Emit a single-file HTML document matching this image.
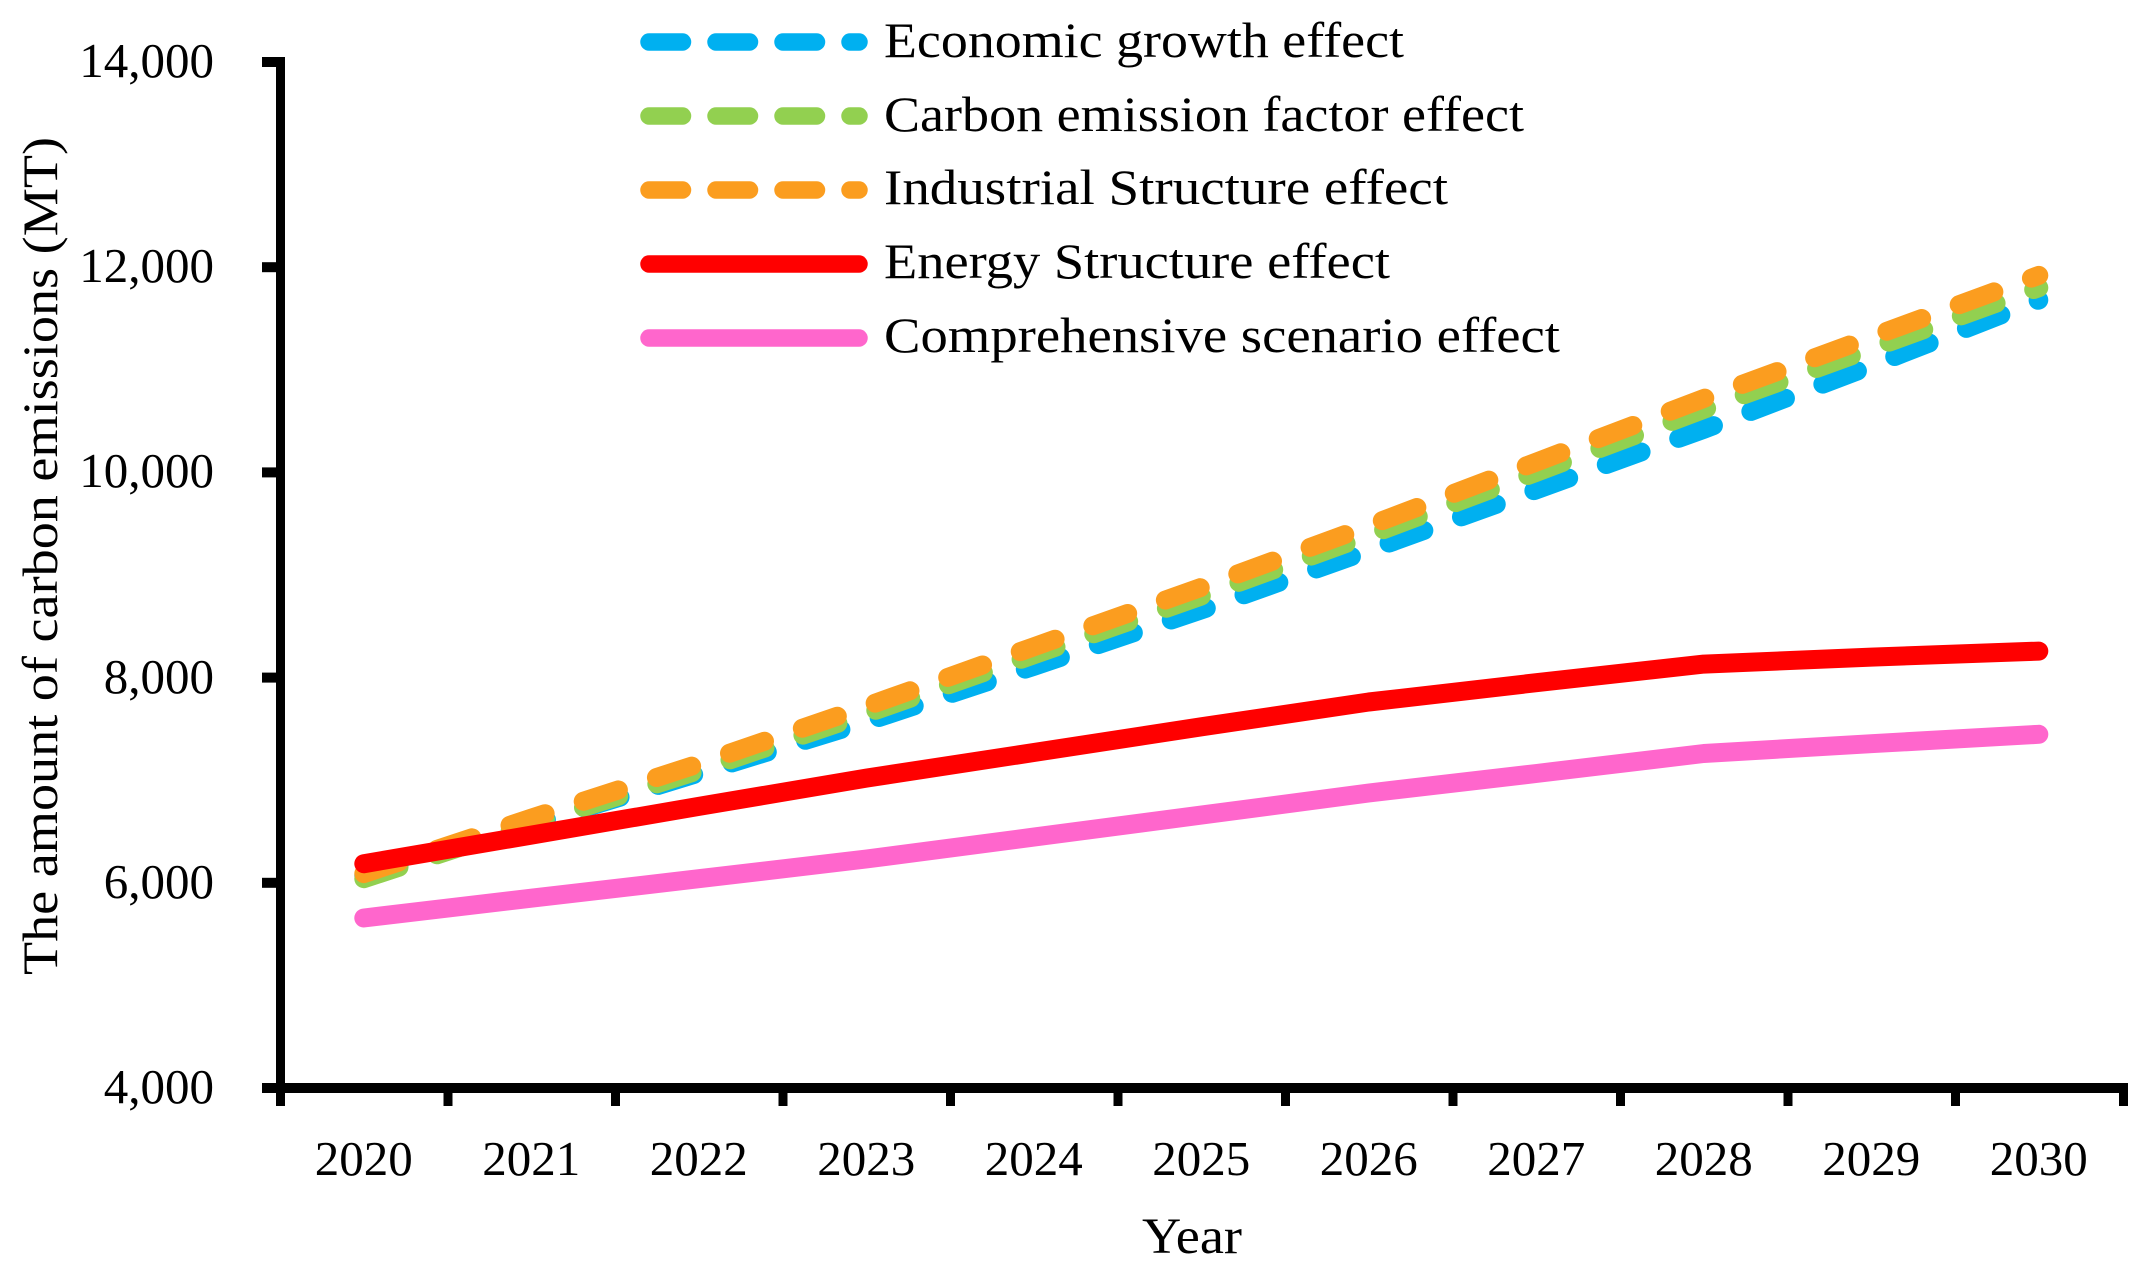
<!DOCTYPE html>
<html>
<head>
<meta charset="utf-8">
<style>
  html, body { margin: 0; padding: 0; background: #ffffff; }
  svg { display: block; }
  text { font-family: "Liberation Serif", "DejaVu Serif", serif; fill: #000; }
</style>
</head>
<body>
<svg width="2151" height="1270" viewBox="0 0 2151 1270" xmlns="http://www.w3.org/2000/svg">
  <rect x="0" y="0" width="2151" height="1270" fill="#ffffff"/>

  <!-- Series -->
  <g fill="none" stroke-linecap="round" stroke-linejoin="round" stroke-width="19">
    <polyline stroke="#00B0F0" stroke-dasharray="37 40"
      points="363.8,875.6 531.3,824.3 698.8,773.0 866.3,721.7 1033.8,666.3 1201.3,609.9 1368.8,550.4 1536.3,489.8 1703.8,429.3 1871.3,365.7 2038.8,300.0"/>
    <polyline stroke="#92D050" stroke-dasharray="37 40"
      points="363.8,878.7 531.3,824.0 698.8,770.4 866.3,713.6 1033.8,654.8 1201.3,596.0 1368.8,535.2 1536.3,472.3 1703.8,409.4 1871.3,348.6 2038.8,287.7"/>
    <polyline stroke="#FB9D1F" stroke-dasharray="37 40"
      points="363.8,873.6 531.3,818.2 698.8,763.8 866.3,706.3 1033.8,646.8 1201.3,587.3 1368.8,525.8 1536.3,462.1 1703.8,398.5 1871.3,337.0 2038.8,275.4"/>
    <polyline stroke="#FF0000"
      points="363.8,863.7 531.3,835.1 698.8,806.4 866.3,778.1 1033.8,752.5 1201.3,726.8 1368.8,702.0 1536.3,682.7 1703.8,664.1 1871.3,657.1 2038.8,651.1"/>
    <polyline stroke="#FF66CC"
      points="363.8,918.0 531.3,898.2 698.8,878.7 866.3,859.0 1033.8,837.1 1201.3,815.1 1368.8,793.0 1536.3,773.5 1703.8,753.5 1871.3,743.7 2038.8,734.3"/>
  </g>

  <!-- Axes -->
  <g fill="#000">
    <rect x="276" y="57" width="9" height="1036"/>
    <rect x="276" y="1083" width="1852" height="10"/>
    <!-- y ticks -->
    <rect x="262" y="57" width="18" height="10"/>
    <rect x="262" y="262.2" width="18" height="10"/>
    <rect x="262" y="467.4" width="18" height="10"/>
    <rect x="262" y="672.6" width="18" height="10"/>
    <rect x="262" y="877.8" width="18" height="10"/>
    <rect x="262" y="1083" width="18" height="10"/>
    <!-- x ticks -->
    <rect x="276" y="1088" width="9" height="18"/>
    <rect x="443.5" y="1088" width="9" height="18"/>
    <rect x="611" y="1088" width="9" height="18"/>
    <rect x="778.5" y="1088" width="9" height="18"/>
    <rect x="946" y="1088" width="9" height="18"/>
    <rect x="1113.5" y="1088" width="9" height="18"/>
    <rect x="1281" y="1088" width="9" height="18"/>
    <rect x="1448.5" y="1088" width="9" height="18"/>
    <rect x="1616" y="1088" width="9" height="18"/>
    <rect x="1783.5" y="1088" width="9" height="18"/>
    <rect x="1951" y="1088" width="9" height="18"/>
    <rect x="2119" y="1088" width="9" height="18"/>
  </g>

  <!-- Y tick labels -->
  <g font-size="49" text-anchor="end">
    <text x="214" y="77">14,000</text>
    <text x="214" y="282">12,000</text>
    <text x="214" y="487">10,000</text>
    <text x="214" y="693">8,000</text>
    <text x="214" y="898">6,000</text>
    <text x="214" y="1103">4,000</text>
  </g>

  <!-- X tick labels -->
  <g font-size="49" text-anchor="middle">
    <text x="363.8" y="1175">2020</text>
    <text x="531.3" y="1175">2021</text>
    <text x="698.8" y="1175">2022</text>
    <text x="866.3" y="1175">2023</text>
    <text x="1033.8" y="1175">2024</text>
    <text x="1201.3" y="1175">2025</text>
    <text x="1368.8" y="1175">2026</text>
    <text x="1536.3" y="1175">2027</text>
    <text x="1703.8" y="1175">2028</text>
    <text x="1871.3" y="1175">2029</text>
    <text x="2038.8" y="1175">2030</text>
  </g>

  <!-- Axis titles -->
  <text x="1192" y="1253" font-size="51" text-anchor="middle" textLength="100" lengthAdjust="spacingAndGlyphs">Year</text>
  <text transform="translate(57,556) rotate(-90)" font-size="50" text-anchor="middle" textLength="838" lengthAdjust="spacingAndGlyphs">The amount of carbon emissions (MT)</text>

  <!-- Legend -->
  <g fill="none" stroke-linecap="round" stroke-width="17.5">
    <line x1="649" y1="42" x2="859" y2="42" stroke="#00B0F0" stroke-dasharray="33.5 33.5"/>
    <line x1="649" y1="116" x2="859" y2="116" stroke="#92D050" stroke-dasharray="33.5 33.5"/>
    <line x1="649" y1="190" x2="859" y2="190" stroke="#FB9D1F" stroke-dasharray="33.5 33.5"/>
    <line x1="649" y1="264" x2="859" y2="264" stroke="#FF0000"/>
    <line x1="649" y1="338" x2="859" y2="338" stroke="#FF66CC"/>
  </g>
  <g font-size="50">
    <text x="884" y="57" textLength="520" lengthAdjust="spacingAndGlyphs">Economic growth effect</text>
    <text x="884" y="131" textLength="640" lengthAdjust="spacingAndGlyphs">Carbon emission factor effect</text>
    <text x="884" y="204" textLength="564" lengthAdjust="spacingAndGlyphs">Industrial Structure effect</text>
    <text x="884" y="278" textLength="506" lengthAdjust="spacingAndGlyphs">Energy Structure effect</text>
    <text x="884" y="352" textLength="676" lengthAdjust="spacingAndGlyphs">Comprehensive scenario effect</text>
  </g>
</svg>
</body>
</html>
